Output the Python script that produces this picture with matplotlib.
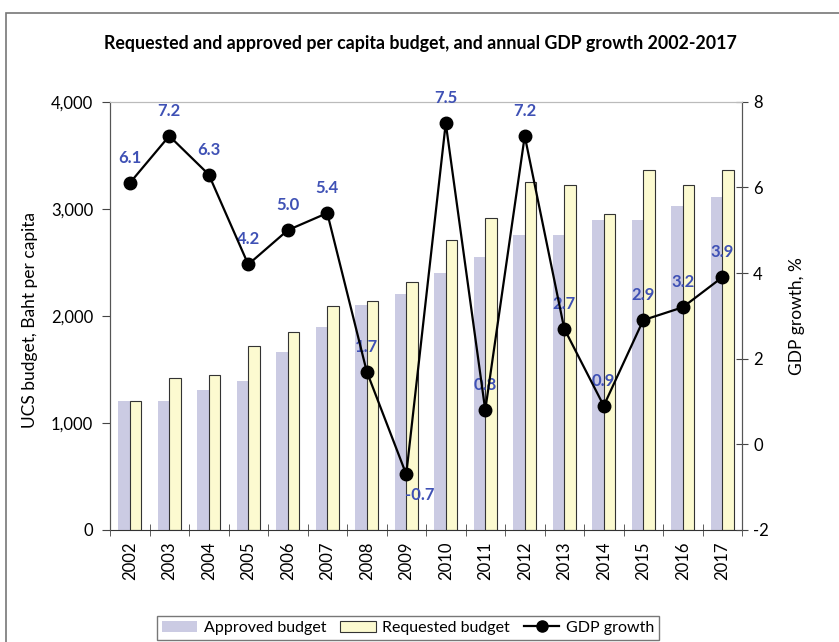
import matplotlib
matplotlib.use("Agg")
import matplotlib.pyplot as plt
from matplotlib.patches import Rectangle
from matplotlib.lines import Line2D
from matplotlib.patches import Patch
import numpy as np

plt.rcParams['font.family'] = ['Lato', 'DejaVu Sans']

years = ['2002', '2003', '2004', '2005', '2006', '2007', '2008', '2009',
         '2010', '2011', '2012', '2013', '2014', '2015', '2016', '2017']
approved = [1202, 1202, 1309, 1396, 1659, 1899, 2100, 2202,
            2401, 2546, 2756, 2756, 2895, 2895, 3028, 3109]
requested = [1202, 1415, 1447, 1718, 1845, 2089, 2140, 2317,
             2708, 2918, 3250, 3220, 2955, 3360, 3220, 3360]
gdp = [6.1, 7.2, 6.3, 4.2, 5.0, 5.4, 1.7, -0.7,
       7.5, 0.8, 7.2, 2.7, 0.9, 2.9, 3.2, 3.9]

title = 'Requested and approved per capita budget, and annual GDP growth 2002-2017'

W, H = 839, 642
fig = plt.figure(figsize=(W / 100, H / 100), dpi=100)
ax = fig.add_axes([110 / W, 1 - 530 / H, (742 - 110) / W, (530 - 101.7) / H])

x = np.arange(len(years))
bw = 0.29
ax.bar(x - bw / 2, approved, width=bw, color='#CBCBE3', edgecolor='none', zorder=2)
ax.bar(x + bw / 2, requested, width=bw, color='#FCFAD0', edgecolor='#333333',
       linewidth=0.8, zorder=2)

ax.set_xlim(-0.5, len(years) - 0.5)
ax.set_ylim(0, 4000)
ax.set_yticks([0, 1000, 2000, 3000, 4000])
ax.set_yticklabels(['0', '1,000', '2,000', '3,000', '4,000'], fontsize=12)
ax.set_xticks(x)
ax.set_xticklabels(years, rotation=90, fontsize=12)
ax.set_xticks(np.arange(len(years) + 1) - 0.5, minor=True)
ax.tick_params(axis='x', which='major', length=0, pad=8)
ax.tick_params(axis='x', which='minor', length=8, direction='inout', color='#444444')
ax.tick_params(axis='y', length=6, direction='out', color='#444444', pad=6)

for s in ['left', 'right']:
    ax.spines[s].set_color('#555555')
ax.spines['bottom'].set_color('#333333')
ax.spines['top'].set_color('#BBBBBB')

ax2 = ax.twinx()
ax2.set_ylim(-2, 8)
ax2.set_yticks([-2, 0, 2, 4, 6, 8])
ax2.set_yticklabels(['-2', '0', '2', '4', '6', '8'], fontsize=12)
ax2.tick_params(axis='y', length=8, direction='inout', color='#444444', pad=4)
for s in ['left', 'right']:
    ax2.spines[s].set_color('#555555')
ax2.spines['top'].set_color('#BBBBBB')
ax2.spines['bottom'].set_visible(False)

ax2.plot(x, gdp, color='black', linewidth=1.6, marker='o', markersize=9, zorder=5)

lab_col = '#3F51B5'
for xi, g in zip(x, gdp):
    if g < 0:
        ax2.annotate(f'{g:.1f}', (xi, g), xytext=(10, -15), textcoords='offset points',
                     ha='center', va='center', color=lab_col, fontsize=12, fontweight='bold')
    else:
        ax2.annotate(f'{g:.1f}', (xi, g), xytext=(0, 18), textcoords='offset points',
                     ha='center', va='center', color=lab_col, fontsize=12, fontweight='bold')

fig.text(420 / W, 1 - 43 / H, title, ha='center', va='center', fontsize=12.8, fontweight='bold')
fig.text(30 / W, 1 - 320 / H, 'UCS budget, Baht per capita', rotation=90,
         ha='center', va='center', fontsize=12.5)
fig.text(797 / W, 1 - 316 / H, 'GDP growth, %', rotation=90,
         ha='center', va='center', fontsize=12.5)

handles = [Patch(facecolor='#CBCBE3', edgecolor='none', label='Approved budget'),
           Patch(facecolor='#FCFAD0', edgecolor='#333333', linewidth=0.8, label='Requested budget'),
           Line2D([0], [0], color='black', linewidth=1.6, marker='o', markersize=8, label='GDP growth')]
leg = fig.legend(handles=handles, loc='upper center', bbox_to_anchor=(408 / W, 1 - 616 / H),
                 ncol=3, fontsize=11.5, frameon=True, fancybox=False, edgecolor='#555555',
                 handlelength=2.2, columnspacing=0.9, handletextpad=0.4, borderpad=0.3,
                 borderaxespad=0)
leg.get_frame().set_linewidth(1.0)

fig.patches.append(Rectangle((6 / W, -0.1), 1.0, 1 - 13 / H + 0.1, transform=fig.transFigure,
                             fill=False, edgecolor='#777777', linewidth=1.2))

fig.savefig('out.png', dpi=100)
